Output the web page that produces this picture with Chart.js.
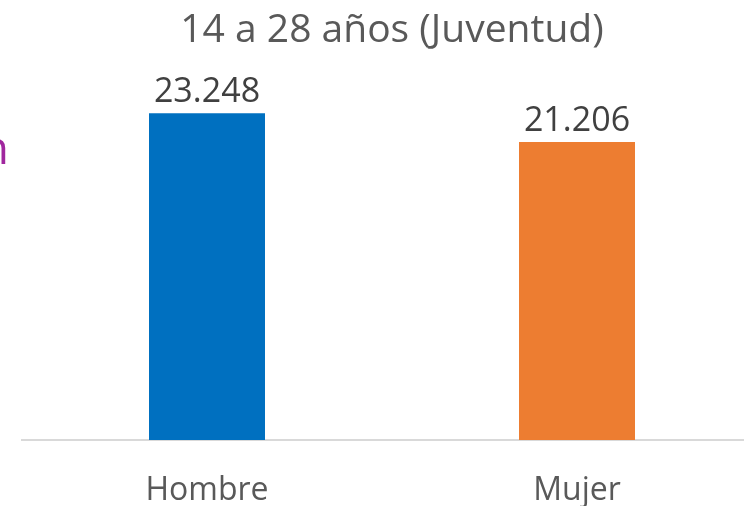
<!DOCTYPE html>
<html>
<head>
<meta charset="utf-8">
<script src="https://cdn.jsdelivr.net/npm/chart.js@4/dist/chart.umd.min.js"></script>
<style>
  html, body { margin: 0; padding: 0; background: #ffffff; overflow: hidden; }
  #wrap { position: relative; width: 762px; height: 506px; }
</style>
</head>
<body>
<div id="wrap"><canvas id="chart"></canvas></div>
<script>
// Data
const categories = ['Hombre', 'Mujer'];
const poblacion = [23248, 21206];
const barColors = ['#0070C0', '#ED7D31'];
const chartTitle = '14 a 28 años (Juventud)';
const sideText = 'Población';

const FONT = "'Open Sans', sans-serif";

// number like 23.248 (Spanish thousands separator)
function fmt(v) {
  return v.toLocaleString('es-ES', { useGrouping: 'always' }).replace(/,/g, '.');
}

// value labels above the bars + cut-off text on the left edge
const labelsPlugin = {
  id: 'labels',
  afterDatasetsDraw(chart) {
    const ctx = chart.ctx;
    const meta = chart.getDatasetMeta(0);
    ctx.save();
    ctx.font = '34px ' + FONT;
    ctx.fillStyle = '#404040';
    ctx.textAlign = 'center';
    ctx.textBaseline = 'alphabetic';
    meta.data.forEach((bar, i) => {
      ctx.fillText(fmt(poblacion[i]), bar.x, bar.y - 11);
    });
    ctx.font = '46px ' + FONT;
    ctx.fillStyle = '#A0279E';
    ctx.textAlign = 'right';
    ctx.fillText(sideText, 9, 164);
    ctx.restore();
  }
};

const ctx = document.getElementById('chart');
new Chart(ctx.getContext('2d'), {
  type: 'bar',
  data: {
    labels: categories,
    datasets: [{
      data: poblacion,
      backgroundColor: barColors,
      borderWidth: 0,
      barPercentage: 1,
      categoryPercentage: 0.3135
    }]
  },
  options: {
    responsive: true,
    maintainAspectRatio: false,
    animation: false,
    layout: {
      padding: { left: 22, right: 0, top: 0, bottom: 0 }
    },
    plugins: {
      legend: { display: false },
      tooltip: { enabled: false },
      title: {
        display: true,
        text: chartTitle,
        fullSize: false,
        color: '#595959',
        font: { family: FONT, size: 39, weight: 'normal' },
        padding: { top: 7, bottom: 10 }
      }
    },
    scales: {
      x: {
        grid: { display: false },
        border: { display: true, color: '#D9D9D9', width: 2 },
        ticks: {
          color: '#595959',
          padding: 24,
          font: { family: FONT, size: 32 }
        },
        afterFit(scale) {
          scale.height = 66;
        }
      },
      y: {
        display: false,
        min: 0,
        max: 26760
      }
    }
  },
  plugins: [labelsPlugin]
});
</script>
</body>
</html>
